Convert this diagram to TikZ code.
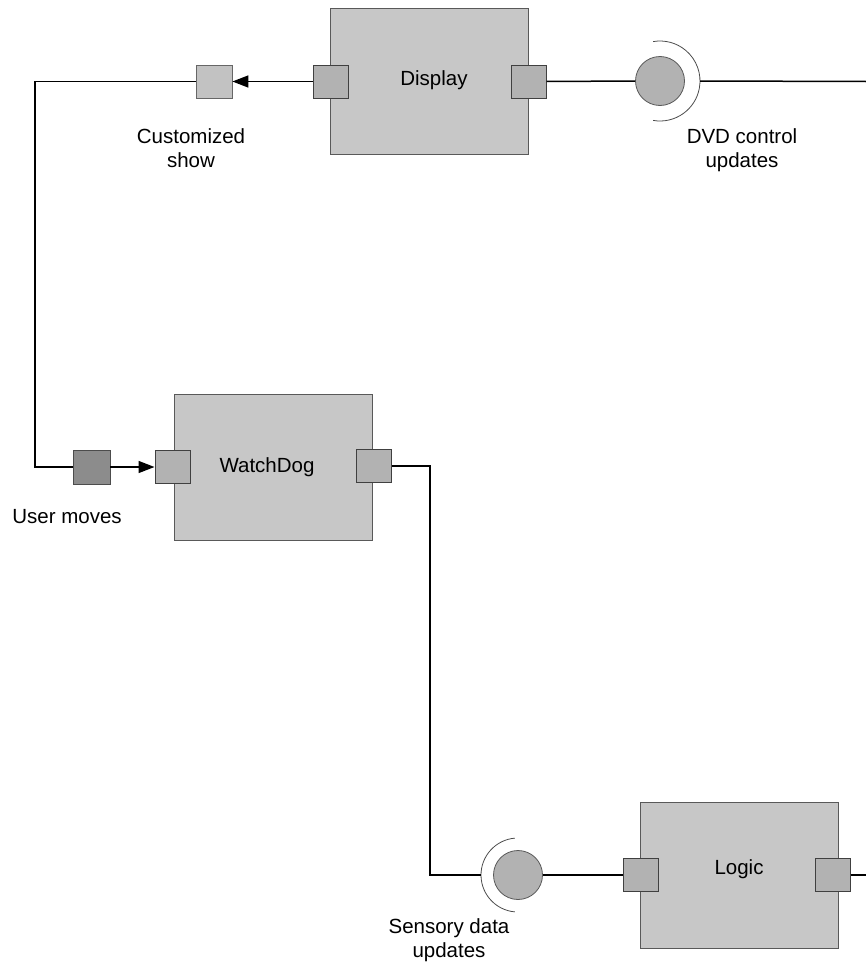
\documentclass[tikz,border=0pt]{standalone}
\usepackage{fontspec}
\setmainfont{Liberation Sans}
\usetikzlibrary{arrows.meta}
\begin{document}
\begin{tikzpicture}[x=0.5pt,y=-0.5pt,
  font=\fontsize{10.25pt}{12.2pt}\selectfont,
  comp/.style={draw=black!65, line width=0.4pt, fill=black!22, minimum width=99pt, minimum height=73pt, inner sep=0pt},
  port/.style={draw=black!75, line width=0.5pt, fill=black!30, minimum width=17.5pt, minimum height=16.5pt, inner sep=0pt},
  pin/.style={draw=black!60, line width=0.4pt, fill=black!24, minimum width=18pt, minimum height=16.5pt, inner sep=0pt},
  pindark/.style={draw=black!70, line width=0.4pt, fill=black!45, minimum width=18.5pt, minimum height=17pt, inner sep=0pt},
  ball/.style={circle, draw=black!65, line width=0.4pt, fill=black!30, minimum size=24.5pt, inner sep=0pt},
  socket/.style={draw=black!70, line width=0.4pt},
  wire/.style={draw=black, line width=0.75pt},
  flow/.style={wire, -{Triangle[length=8pt, width=6pt]}},
  lbl/.style={align=center, inner sep=0pt}
]
\useasboundingbox (0,0) rectangle (866,969);

% components
\node[comp] (display) at (429,81) {};
\node (displaytxt) at (434,80) {Display};
\node[comp] (watchdog) at (273.5,467) {};
\node (watchdogtxt) at (267,467) {WatchDog};
\node[comp] (logic) at (739,875) {};
\node (logictxt) at (739,869) {Logic};

% ports on the components
\node[port] (dispL) at (330.5,81.5) {};
\node[port] (dispR) at (528.5,81.5) {};
\node[port] (wdL) at (172.5,467) {};
\node[port] (wdR) at (374,466) {};
\node[port] (logL) at (640.5,875) {};
\node[port] (logR) at (832.5,875) {};

% free-standing pins
\node[pin] (custom) at (214,81.5) {};
\node[pindark] (user) at (91.5,467) {};

% provided interfaces (ball) with required sockets
\node[ball] (dvd) at (660,81) {};
\draw[socket] (660,81) ++(100:40) arc[start angle=100, end angle=-100, radius=40];
\coordinate (dvdsock) at (700,81);
\node[ball] (sensor) at (518,875) {};
\draw[socket] (518,875) ++(95:37) arc[start angle=95, end angle=265, radius=37];
\coordinate (sensock) at (481,875);

% labels
\node[lbl] (customlbl) at (191,148) {Customized\\show};
\node[lbl] (dvdlbl) at (742,150) {DVD control\\updates};
\node[lbl] (userlbl) at (67,517) {User moves};
\node[lbl] (sensorlbl) at (449,940) {Sensory data\\updates};

% connectors
\coordinate (edgeTop) at (866,81.5);
\coordinate (edgeBot) at (866,875);
\coordinate (cornerA) at (35,81.5);
\coordinate (cornerB) at (35,467);
\coordinate (cornerC) at (430,466);
\coordinate (cornerD) at (430,875);

\draw[flow] (dispL.west) -- (custom.east);
\draw[wire] (custom.west) -- (cornerA) -- (cornerB) -- (user.west);
\draw[flow] (user.east) -- (wdL.west);
\draw[wire] (dispR.east) -- (dvd.west);
\draw[wire] (dvdsock) -- (edgeTop);
\draw[wire] (wdR.east) -- (cornerC) -- (cornerD) -- (sensock);
\draw[wire] (sensor.east) -- (logL.west);
\draw[wire] (logR.east) -- (edgeBot);
\end{tikzpicture}
\end{document}
